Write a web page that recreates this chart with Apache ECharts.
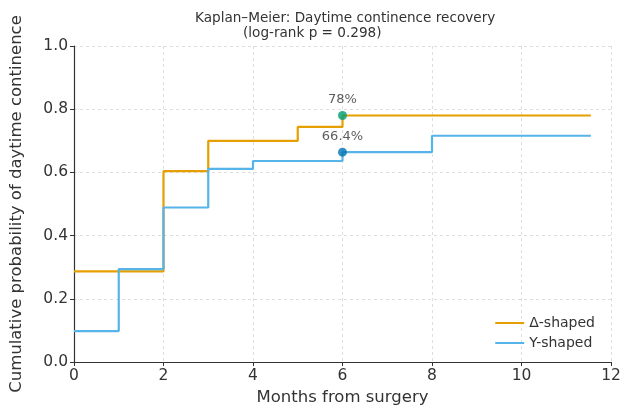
<!DOCTYPE html>
<html>
<head>
<meta charset="utf-8">
<script src="https://cdn.jsdelivr.net/npm/echarts@6/dist/echarts.min.js"></script>
<style>html,body{margin:0;padding:0;background:#fff}#c{width:624px;height:411px}</style>
</head>
<body>
<div id="c"></div>
<script>
var deltaTimes = [0, 2, 3, 5, 6, 11.55];
var deltaValues = [0.287, 0.604, 0.700, 0.744, 0.780, 0.780];
var yTimes = [0, 1, 2, 3, 4, 6, 8, 11.55];
var yValues = [0.098, 0.294, 0.489, 0.611, 0.636, 0.664, 0.716, 0.716];
var markTimes = [6, 6];
var markValues = [0.780, 0.664];
var markLabels = ['78%', '66.4%'];

function pairs(xs, ys) { return xs.map(function (x, i) { return [x, ys[i]]; }); }

var font = 'DejaVu Sans';
var chart = echarts.init(document.getElementById('c'));
chart.setOption({
  animation: false,
  textStyle: { fontFamily: font },
  graphic: [
    { type: 'text', top: 11, left: 195, style: { text: 'Kaplan–Meier: Daytime continence recovery', fontFamily: font, fontSize: 13.6, fill: '#333' } },
    { type: 'text', top: 26, left: 243, style: { text: '(log-rank p = 0.298)', fontFamily: font, fontSize: 13.6, fill: '#333' } }
  ],
  grid: { left: 71, right: 13, top: 46, bottom: 48 },
  legend: {
    right: 24, bottom: 56, orient: 'vertical', itemWidth: 29, itemHeight: 2, itemGap: 6, align: 'left',
    textStyle: { fontFamily: font, fontSize: 14, color: '#333' },
    data: [
      { name: 'Δ-shaped', icon: 'rect' },
      { name: 'Y-shaped', icon: 'rect' }
    ]
  },
  xAxis: {
    type: 'value', min: 0, max: 12, interval: 2,
    name: 'Months from surgery', nameLocation: 'middle', nameGap: 27,
    nameTextStyle: { fontFamily: font, fontSize: 16.5, color: '#333' },
    axisLine: { lineStyle: { color: '#333', width: 1.2 } },
    axisTick: { show: true, length: 4, lineStyle: { color: '#333' } },
    axisLabel: { fontFamily: font, fontSize: 15.5, color: '#333', margin: 6 },
    splitLine: { show: true, lineStyle: { type: [3, 3], color: '#d6d6d6', width: 0.8 } }
  },
  yAxis: {
    type: 'value', min: 0, max: 1, interval: 0.2,
    name: 'Cumulative probability of daytime continence', nameLocation: 'middle', nameGap: 49,
    nameTextStyle: { fontFamily: font, fontSize: 16.5, color: '#333' },
    axisLine: { show: true, lineStyle: { color: '#333', width: 1.2 } },
    axisTick: { show: true, length: 4, lineStyle: { color: '#333' } },
    axisLabel: { fontFamily: font, fontSize: 15.5, color: '#333', margin: 6, formatter: function (v) { return v.toFixed(1); } },
    splitLine: { show: true, lineStyle: { type: [3, 3], color: '#d6d6d6', width: 0.8 } }
  },
  series: [
    {
      name: 'Δ-shaped', type: 'line', step: 'end', showSymbol: false, symbol: 'none',
      data: pairs(deltaTimes, deltaValues),
      lineStyle: { color: '#E69F00', width: 2.2 }, itemStyle: { color: '#E69F00' }, z: 3
    },
    {
      name: 'Y-shaped', type: 'line', step: 'end', showSymbol: false, symbol: 'none',
      data: pairs(yTimes, yValues),
      lineStyle: { color: '#56B4E9', width: 2.2 }, itemStyle: { color: '#56B4E9' }, z: 3
    },
    {
      name: 'marks', type: 'scatter', symbolSize: 9, z: 5,
      data: markTimes.map(function (t, i) {
        return {
          value: [t, markValues[i]],
          itemStyle: { color: i === 0 ? '#009E73' : '#0072B2' },
          label: { show: true, position: 'top', distance: 5, formatter: markLabels[i], fontFamily: font, fontSize: 13, color: '#333' }
        };
      })
    }
  ]
});
</script>
</body>
</html>
